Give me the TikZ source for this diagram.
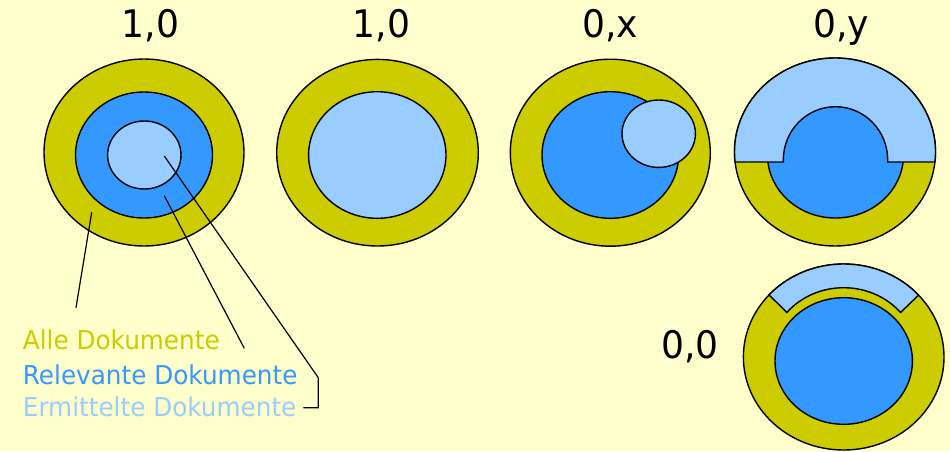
\documentclass[tikz,border=0pt]{standalone}
\usepackage{fontspec}
\usetikzlibrary{calc}
\setmainfont{DejaVu Sans}[FakeStretch=0.95]
\definecolor{bgc}{HTML}{FFFFCC}
\definecolor{allc}{HTML}{CCCC00}
\definecolor{relc}{HTML}{3399FF}
\definecolor{ermc}{HTML}{99CCFF}
\tikzset{
  allset/.style={draw=black, fill=allc, line width=1.4pt},
  relset/.style={draw=black, fill=relc, line width=1.4pt},
  ermset/.style={draw=black, fill=ermc, line width=1.4pt},
  conn/.style={draw=black, line width=1.2pt},
  numlab/.style={anchor=base, inner sep=0pt, font=\fontsize{38}{44}\selectfont},
  leglab/.style={anchor=base west, inner sep=0pt, font=\fontsize{26}{30}\selectfont}
}
\begin{document}
\begin{tikzpicture}[x=1pt,y=-1pt]
\fill[bgc] (0,0) rectangle (950,451);
\useasboundingbox (0,0) rectangle (950,451);

% circle 1
\draw[allset] (144,152.5) ellipse [x radius=100, y radius=93.5];
\draw[relset] (144,155) ellipse [x radius=68.5, y radius=63];
\draw[ermset] (144.3,155) ellipse [x radius=36.7, y radius=34];

% circle 2
\draw[allset] (377.5,152.7) ellipse [x radius=100.8, y radius=93.3];
\draw[ermset] (377.3,155) ellipse [x radius=68.7, y radius=63.3];

% circle 3
\draw[allset] (610.3,152.7) ellipse [x radius=100, y radius=93.5];
\draw[relset] (610.3,155) ellipse [x radius=68.3, y radius=63.3];
\draw[ermset] (658.7,133.7) ellipse [x radius=36.7, y radius=33.7];

% circle 4
\draw[allset] (835,152) ellipse [x radius=100.5, y radius=94];
\draw[relset] (835.5,155) ellipse [x radius=68, y radius=63];
\draw[ermset] (835,152) ++(173.9:100.5 and 94)
  arc[start angle=173.9, end angle=366.1, x radius=100.5, y radius=94]
  -- (887.7,162) -- (887.7,160)
  arc[start angle=360, end angle=180, x radius=52.2, y radius=53.3]
  -- (783.3,162) -- cycle;

% circle 5
\draw[allset] (843.7,357) ellipse [x radius=100.3, y radius=93];
\draw[relset] (843.7,361) ellipse [x radius=68.7, y radius=63.3];
\draw[ermset] (843.7,357) ++(221.9:100.3 and 93)
  arc[start angle=221.9, end angle=318.3, x radius=100.3, y radius=93]
  -- ($(843.7,357)+(320:74.2 and 69.3)$)
  arc[start angle=320, end angle=220, x radius=74.2, y radius=69.3]
  -- cycle;

% labels
\node[numlab] (l1) at (150.5,37.7) {1,0};
\node[numlab] (l2) at (381.3,37.7) {1,0};
\node[numlab] (l3) at (610,37.7) {0,x};
\node[numlab] (l4) at (841,37.7) {0,y};
\node[numlab] (l5) at (690,358.3) {0,0};

\node[leglab, text=allc] (alle) at (22.7,349) {Alle Dokumente};
\node[leglab, text=relc] (rel) at (22.7,384) {Relevante Dokumente};
\node[leglab, text=ermc] (erm) at (22.7,416.7) {Ermittelte Dokumente};

% connectors
\coordinate (pa) at (91.7,212.3);
\coordinate (pr) at (164.3,195.7);
\coordinate (pe) at (164.3,156);
\coordinate (ea) at (76,307.7);
\coordinate (er) at (244.3,348.3);
\coordinate (ee1) at (318.3,377.7);
\coordinate (ee2) at (318.3,407.7);
\coordinate (ee3) at (303.3,407.7);
\draw[conn] (pa) -- (ea);
\draw[conn] (pr) -- (er);
\draw[conn] (pe) -- (ee1) -- (ee2) -- (ee3);
\end{tikzpicture}
\end{document}
